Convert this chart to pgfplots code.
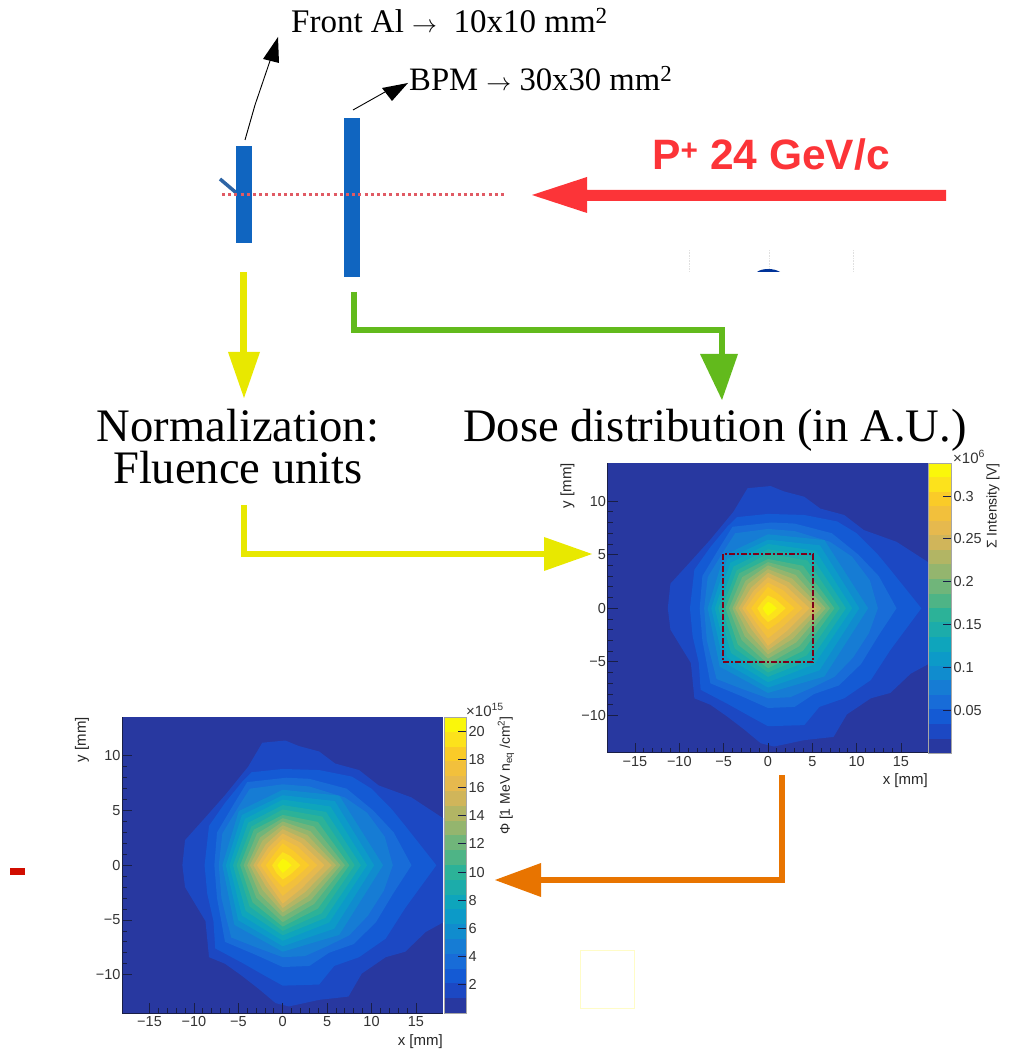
\documentclass[border=0pt]{standalone}
\usepackage{pgfplots}
\usepackage{pgfplotstable}
\usepackage{fontspec}
\pgfplotsset{compat=1.18}
\setmainfont{Liberation Sans}
\newfontfamily\serifface{Liberation Serif}
\definecolor{lvl0}{RGB}{40,56,160}
\definecolor{lvl1}{RGB}{28,72,195}
\definecolor{lvl2}{RGB}{20,90,212}
\definecolor{lvl3}{RGB}{24,108,216}
\definecolor{lvl4}{RGB}{22,124,212}
\definecolor{lvl5}{RGB}{16,140,206}
\definecolor{lvl6}{RGB}{12,154,200}
\definecolor{lvl7}{RGB}{14,165,188}
\definecolor{lvl8}{RGB}{28,172,170}
\definecolor{lvl9}{RGB}{44,178,152}
\definecolor{lvl10}{RGB}{78,180,134}
\definecolor{lvl11}{RGB}{112,181,122}
\definecolor{lvl12}{RGB}{148,181,110}
\definecolor{lvl13}{RGB}{178,181,100}
\definecolor{lvl14}{RGB}{208,181,90}
\definecolor{lvl15}{RGB}{230,185,78}
\definecolor{lvl16}{RGB}{242,192,60}
\definecolor{lvl17}{RGB}{250,203,40}
\definecolor{lvl18}{RGB}{252,226,28}
\definecolor{lvl19}{RGB}{250,247,10}
\definecolor{axisdark}{RGB}{25,30,70}
\pgfplotstableread{
x y
-2.3 11.2
0.3 11.4
1.8 10.9
4.1 10.4
5.9 9.3
8.6 8.7
10.8 7.3
14.5 6.2
19 3.8
19 -4.8
16.1 -6.1
13.8 -7.9
11.6 -8.4
8.9 -9.9
7.4 -12.0
4.1 -12.3
0.7 -12.9
-0.8 -12.6
-2.7 -11.3
-4.6 -10.1
-6.5 -9
-8.3 -8.4
-8.7 -5.1
-11 -2
-11.3 0
-11 2.3
-8.9 4.2
-6.5 6.4
-3.9 9
}\levelA
\pgfplotstableread{
x y
17.3 0
13.8 3.6
12.3 5.1
10 7
7.8 8.1
4.1 8.7
0 8.8
-3.5 8.5
-4.6 7.6
-6.5 5.7
-8.3 3.6
-8.8 0
-8.5 -2.6
-7.8 -5.1
-7.6 -7.6
-4.6 -8.9
-2 -10.1
0 -11
4.1 -10.9
5.8 -9.2
8.6 -8.4
11.6 -6.7
13.8 -3.9
}\levelB
\pgfplotstableread{
x y
14.5 0
12.5 3
10.2 5
7.2 7.0
3 7.9
0.4 8
-4 7.6
-5.5 5.6
-7.4 3.0
-7.7 0
-7.4 -3
-6.9 -5.2
-6.5 -7
-3 -8.2
0 -9.3
3 -9.2
5.2 -8.0
8 -7.2
10.5 -5.2
12.5 -2.5
}\levelC
\pgfplotstableread{
x y
12.4 0
11.5 2.6
9.5 4.8
7 6.2
3 7.2
0 7.4
-3.7 7.0
-5.1 5.2
-6.8 2.9
-7.2 0
-6.9 -3
-6.3 -5
-5.8 -6.6
-3 -7.5
0 -8.4
2.5 -8.3
5 -7.4
7.5 -6.4
9.6 -4.6
11.4 -2.3
}\levelD
\pgfplotstableread{
a r5 r6 r7 r8 r9 r10 r11 r12 r13 r14 r15 r16 r17 r18 r19
0 11.3 10.3 9.5 8.8 8.1 7.5 7.0 6.5 6.0 5.5 4.7 3.9 3.0 2.0 1.0
45 9.0 8.3 7.6 6.9 6.3 5.6 5.0 4.4 3.9 3.4 2.9 2.4 1.8 1.2 0.6
90 6.9 6.4 6.0 5.5 5.1 4.6 4.3 4.0 3.65 3.3 2.9 2.4 2.0 1.2 0.6
135 7.0 6.5 6.0 5.5 5.0 4.6 4.1 3.6 3.2 2.7 2.3 1.9 1.4 0.9 0.45
180 6.8 6.4 6.0 5.6 5.2 4.8 4.4 4.0 3.7 3.3 2.9 2.5 1.9 1.2 0.6
225 7.7 7.1 6.5 5.9 5.3 4.8 4.2 3.7 3.2 2.7 2.3 1.9 1.5 1.0 0.5
270 7.9 7.4 6.9 6.4 6.0 5.6 5.2 4.7 4.3 3.9 3.5 2.8 2.0 1.3 0.7
315 9.0 8.2 7.4 6.8 6.2 5.6 5.0 4.5 4.0 3.5 3.0 2.4 1.8 1.2 0.6
360 11.3 10.3 9.5 8.8 8.1 7.5 7.0 6.5 6.0 5.5 4.7 3.9 3.0 2.0 1.0
}\levelR
\newcommand{\drawmap}{%
  \addplot[draw=none,fill=lvl0] coordinates {(-18.1,-13.5)(18.05,-13.5)(18.05,13.55)(-18.1,13.55)};
  \addplot[draw=none,fill=lvl1] table[x=x,y=y] {\levelA};
  \addplot[draw=none,fill=lvl2] table[x=x,y=y] {\levelB};
  \addplot[draw=none,fill=lvl3] table[x=x,y=y] {\levelC};
  \addplot[draw=none,fill=lvl4] table[x=x,y=y] {\levelD};
  \pgfplotsinvokeforeach{5,...,19}{
    \addplot[draw=none,fill=lvl##1] table[x expr={\thisrow{r##1}*cos(\thisrow{a})},y expr={\thisrow{r##1}*sin(\thisrow{a})}] {\levelR};
  }%
}
\newcommand{\band}[3]{\addplot[draw=none,fill=lvl#1] coordinates {(0,#2)(1,#2)(1,#3)(0,#3)};}
\pgfplotsset{
  rootmap/.style={
    scale only axis,
    xmin=-18.1,xmax=18.05,ymin=-13.5,ymax=13.55,
    axis on top,
    axis x line*=bottom,axis y line*=left,
    axis line style={-,draw=axisdark,line width=1pt},
    tick style={draw=axisdark,line width=0.8pt},
    tick align=inside,
    major tick length=10pt,minor tick length=5pt,
    minor x tick num=4,minor y tick num=4,
    xtick={-15,-10,-5,0,5,10,15},
    xticklabels={−15,−10,−5,0,5,10,15},
    ytick={-10,-5,0,5,10},
    yticklabels={−10,−5,0,5,10},
    tick label style={font=\fontsize{14.5}{16}\selectfont,text=black!80},
    xticklabel style={yshift=0pt},
    yticklabel style={xshift=2pt},
    label style={font=\fontsize{15}{17}\selectfont,text=black!85,inner sep=0pt},
    xlabel={x [mm]},ylabel={y [mm]},
    xlabel style={at={(axis description cs:1,-0.072)},anchor=north east},
    ylabel style={at={(axis description cs:-0.125,1)},anchor=east,rotate=0},
  },
  rootbar/.style={
    scale only axis,
    xmin=0,xmax=1,
    axis on top,
    xtick=\empty,
    axis line style={draw=black!35,line width=0.8pt},
    ytick pos=right,
    yticklabel pos=right,
    tick align=inside,
    major tick length=8pt,
    tick style={draw=axisdark,line width=0.8pt},
    tick label style={font=\fontsize{14.5}{16}\selectfont,text=black!80},
    yticklabel style={xshift=-1pt},
  },
}
\begin{document}
\begin{tikzpicture}
\useasboundingbox (0,0) rectangle (1011pt,1049pt);
% right map
\begin{axis}[rootmap,at={(607.5pt,296pt)},anchor=south west,width=320.5pt,height=290pt]
\drawmap
\addplot[draw=red!55!black!90!blue,line width=1.8pt,dash pattern=on 6pt off 2pt on 2pt off 2pt] coordinates {(-5.05,-5)(5.1,-5)(5.1,5.05)(-5.05,5.05)(-5.05,-5)};
\end{axis}
% right colour bar
\begin{axis}[rootbar,at={(928.5pt,296pt)},anchor=south west,width=22.5pt,height=290pt,
  ymin=0,ymax=0.3386,ytick={0.05,0.1,0.15,0.2,0.25,0.3},
  yticklabels={0.05,0.1,0.15,0.2,0.25,0.3}]
\band{0}{0}{.0169}\band{1}{.0169}{.0339}\band{2}{.0339}{.0508}\band{3}{.0508}{.0677}
\band{4}{.0677}{.0847}\band{5}{.0847}{.1016}\band{6}{.1016}{.1185}\band{7}{.1185}{.1354}
\band{8}{.1354}{.1524}\band{9}{.1524}{.1693}\band{10}{.1693}{.1862}\band{11}{.1862}{.2032}
\band{12}{.2032}{.2201}\band{13}{.2201}{.2370}\band{14}{.2370}{.2540}\band{15}{.2540}{.2709}
\band{16}{.2709}{.2878}\band{17}{.2878}{.3047}\band{18}{.3047}{.3217}\band{19}{.3217}{.3386}
\end{axis}
% left map
\begin{axis}[rootmap,at={(122pt,36pt)},anchor=south west,width=321pt,height=296pt]
\drawmap
\end{axis}
% left colour bar
\begin{axis}[rootbar,at={(444pt,36pt)},anchor=south west,width=22pt,height=296pt,
  ymin=0,ymax=21,ytick={2,4,6,8,10,12,14,16,18,20},
  yticklabels={2,4,6,8,10,12,14,16,18,20}]
\band{0}{0}{1.05}\band{1}{1.05}{2.1}\band{2}{2.1}{3.15}\band{3}{3.15}{4.2}
\band{4}{4.2}{5.25}\band{5}{5.25}{6.3}\band{6}{6.3}{7.35}\band{7}{7.35}{8.4}
\band{8}{8.4}{9.45}\band{9}{9.45}{10.5}\band{10}{10.5}{11.55}\band{11}{11.55}{12.6}
\band{12}{12.6}{13.65}\band{13}{13.65}{14.7}\band{14}{14.7}{15.75}\band{15}{15.75}{16.8}
\band{16}{16.8}{17.85}\band{17}{17.85}{18.9}\band{18}{18.9}{19.95}\band{19}{19.95}{21}
\end{axis}
% annotations, in image pixels
\begin{scope}[x=1pt,y=-1pt,shift={(0pt,1049pt)},every node/.style={inner sep=0pt}]
\definecolor{barblue}{RGB}{16,101,192}
\definecolor{beamred}{RGB}{252,52,56}
\definecolor{yel}{RGB}{232,232,0}
\definecolor{grn}{RGB}{98,186,28}
\definecolor{org}{RGB}{232,116,0}
\definecolor{dotred}{RGB}{224,90,100}
\definecolor{slant}{RGB}{45,100,165}
% colour bar titles
\node[font=\fontsize{15}{17}\selectfont,text=black!80,anchor=west] at (953,457) {×10\textsuperscript{6}};
\node[font=\fontsize{15}{17}\selectfont,text=black!80,anchor=west] at (466,710) {×10\textsuperscript{15}};
\node[font=\fontsize{14}{16}\selectfont,text=black!85,rotate=90,anchor=east] at (993,463) {Σ Intensity [V]};
\node[font=\fontsize{14}{16}\selectfont,text=black!85,rotate=90,anchor=east] at (506,716) {Φ [1 MeV n\textsubscript{eq} /cm\textsuperscript{2}]};
% targets and beam
\draw[line width=3.5pt,color=slant] (220,179) -- (240,196);
\fill[barblue] (236,146) rectangle (252,243);
\fill[barblue] (344,118) rectangle (360,277);
\draw[line width=3pt,color=dotred,dash pattern=on 3pt off 3.2pt] (222,195) -- (507,195);
\fill[beamred] (946,190) -- (587,190) -- (587,177) -- (532,195) -- (587,213) -- (587,201) -- (946,201) -- cycle;
\node[font=\bfseries\fontsize{42.5}{44}\selectfont,text=beamred,anchor=base west] at (652,170) {P\textsuperscript{+} 24 GeV/c};
% faint marks
\draw[black!12,densely dotted,line width=0.6pt] (689,250) -- (689,271) (769,250) -- (769,268) (853,250) -- (853,271);
\fill[blue!50!black!80!cyan] (757,272) .. controls (762,268) and (774,268) .. (780,272) -- cycle;
\draw[yellow!22,line width=0.6pt] (580,950) rectangle (634,1008);
\fill[red!80!black!90!orange] (10,868) rectangle (25,875);
% black arrows
\draw[line width=0.9pt] (245,140) -- (255,105) -- (272,55);
\fill (278,37) -- (263,59) -- (279,63) -- cycle;
\draw[line width=0.9pt] (353,110) -- (385,92);
\fill (408,83) -- (382,88) -- (392,101) -- cycle;
\node[font=\serifface\fontsize{33}{35}\selectfont,anchor=base west] at (291,33) {Front Al $\rightarrow$\ \ 10x10 mm\textsuperscript{2}};
\node[font=\serifface\fontsize{32.7}{35}\selectfont,anchor=base west] at (409,91) {BPM $\rightarrow$ 30x30 mm\textsuperscript{2}};
% yellow arrow 1
\fill[yel] (240,272) rectangle (247,352);
\fill[yel] (228,352) -- (260,352) -- (244,398) -- cycle;
% green arrow
\draw[grn,line width=6pt] (354,292) -- (354,330) -- (722,330) -- (722,356);
\fill[grn] (700,354) -- (738,354) -- (722,400) -- cycle;
% captions
\node[font=\serifface\fontsize{46.6}{48}\selectfont,anchor=base] at (238,442) {Normalization:};
\node[font=\serifface\fontsize{46.6}{48}\selectfont,anchor=base] at (238,484) {Fluence units};
\node[font=\serifface\fontsize{46.6}{48}\selectfont,anchor=base west] at (463,442) {Dose distribution (in A.U.)};
% yellow arrow 2
\draw[yel,line width=6pt] (244,505) -- (244,554) -- (548,554);
\fill[yel] (544,537) -- (544,571) -- (592,554) -- cycle;
% orange arrow
\draw[org,line width=6pt] (782,775) -- (782,880) -- (538,880);
\fill[org] (541,863) -- (541,897) -- (495,880) -- cycle;
\end{scope}
\end{tikzpicture}
\end{document}
